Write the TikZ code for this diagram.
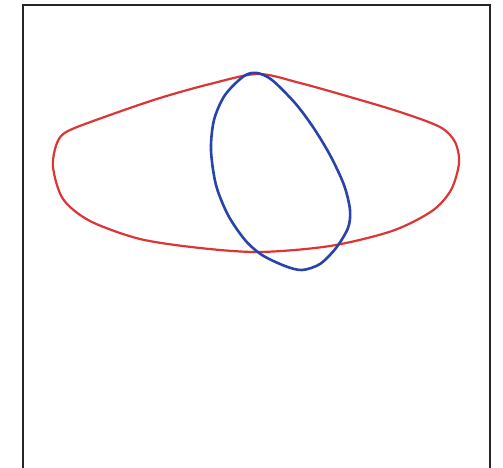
\documentclass[tikz,border=0pt]{standalone}
\definecolor{curvered}{RGB}{221,52,52}
\definecolor{curveblue}{RGB}{38,68,170}
\tikzset{
  frameline/.style={draw=black!85, line width=2.3pt},
  redloop/.style={draw=curvered, line width=2.2pt, line join=round},
  blueloop/.style={draw=curveblue, line width=2.6pt, line join=round}
}
\begin{document}
\begin{tikzpicture}[x=1pt,y=-1pt]
\useasboundingbox (0,0) rectangle (503,468);
\fill[white] (0,0) rectangle (503,468);
\coordinate (bl) at (23,470);
\coordinate (tl) at (23,5);
\coordinate (tr) at (490,5);
\coordinate (br) at (490,470);
\draw[frameline] (bl) -- (tl) -- (tr) -- (br);
\draw[redloop] plot[smooth cycle, tension=0.5] coordinates {
 (258,74) (300,83) (350,97) (400,112) (440,127) (455,142) (459,163)
 (451,190) (432,211) (392,231) (330,246) (260,252) (200,248) (140,239)
 (90,221) (63,199) (53,167) (57,143) (68,131) (110,115) (160,98) (210,84)};
\draw[blueloop] plot[smooth cycle, tension=0.5] coordinates {
 (257,73) (272,80) (295,103) (313,127) (330,155) (344,185) (350,210)
 (348,228) (336,248) (320,264) (302,270) (285,266) (262,255) (245,240)
 (228,215) (216,185) (211,150) (214,120) (225,95) (244,76)};
\end{tikzpicture}
\end{document}
